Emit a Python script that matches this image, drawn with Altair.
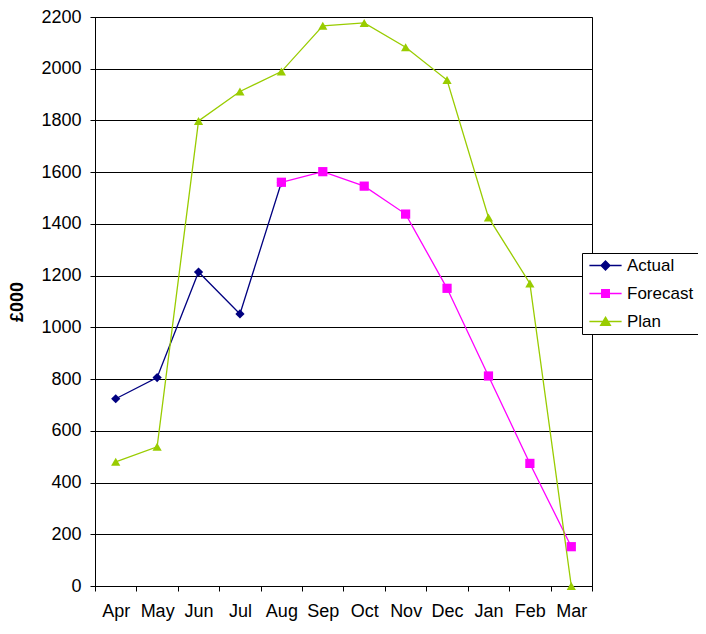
import altair as alt
import pandas as pd

months = ["Apr", "May", "Jun", "Jul", "Aug", "Sep", "Oct", "Nov", "Dec", "Jan", "Feb", "Mar"]
actual_months = ["Apr", "May", "Jun", "Jul", "Aug"]
actual = [724, 806, 1214, 1052, 1560]
forecast_months = ["Aug", "Sep", "Oct", "Nov", "Dec", "Jan", "Feb", "Mar"]
forecast = [1561, 1602, 1546, 1438, 1151, 812, 474, 152]
plan_months = months
plan = [480, 538, 1798, 1912, 1989, 2166, 2177, 2083, 1956, 1425, 1170, 0]

series = ["Actual", "Forecast", "Plan"]
colors = ["#000080", "#FF00FF", "#99CC00"]
point_shapes = ["diamond", "square", "triangle-up"]
# legend glyphs: a short line with the marker on it
legend_shapes = [
    "M-2.3,0L2.3,0M0,-0.64L0.64,0L0,0.64L-0.64,0Z",
    "M-2.3,0L2.3,0M-0.55,-0.55L0.55,-0.55L0.55,0.55L-0.55,0.55Z",
    "M-2.3,0L2.3,0M0,-0.62L0.7,0.55L-0.7,0.55Z",
]

rows = []
for m, v in zip(actual_months, actual):
    rows.append({"Month": m, "Value": v, "Series": "Actual"})
for m, v in zip(forecast_months, forecast):
    rows.append({"Month": m, "Value": v, "Series": "Forecast"})
for m, v in zip(plan_months, plan):
    rows.append({"Month": m, "Value": v, "Series": "Plan"})
df = pd.DataFrame(rows)

FONT = "Liberation Sans"

x_enc = alt.X(
    "Month:N",
    sort=months,
    scale=alt.Scale(type="band", domain=months, paddingInner=0, paddingOuter=0),
    bandPosition=0.5,
    axis=alt.Axis(
        title=None,
        tickBand="extent",
        labelAngle=0,
        tickSize=5,
        tickColor="black",
        domainColor="black",
        labelPadding=11,
        grid=False,
        labelFontSize=18,
        labelColor="black",
    ),
)
y_enc = alt.Y(
    "Value:Q",
    scale=alt.Scale(domain=[0, 2200], nice=False),
    axis=alt.Axis(
        title="£000",
        titleFontSize=18,
        titleFontWeight="bold",
        titleColor="black",
        titlePadding=14,
        values=list(range(0, 2201, 200)),
        format="d",
        tickSize=5,
        tickColor="black",
        domainColor="black",
        gridColor="black",
        gridWidth=1,
        labelPadding=9,
        labelFontSize=18,
        labelColor="black",
    ),
)

lines = alt.Chart(df).mark_line(strokeWidth=1.3).encode(
    x=x_enc,
    y=y_enc,
    stroke=alt.Stroke("Series:N", scale=alt.Scale(domain=series, range=colors), legend=None),
    detail="Series:N",
)

points = alt.Chart(df).mark_point(filled=True, size=85, opacity=1).encode(
    x=x_enc,
    y=y_enc,
    fill=alt.Fill("Series:N", scale=alt.Scale(domain=series, range=colors), legend=None),
    shape=alt.Shape("Series:N", scale=alt.Scale(domain=series, range=point_shapes), legend=None),
)

leg = alt.Legend(
    title=None,
    orient="none",
    legendX=487,
    legendY=236,
    labelFontSize=17,
    labelColor="black",
    labelFont=FONT,
    symbolSize=196,
    symbolStrokeWidth=1.3,
    symbolOffset=11,
    labelOffset=13,
    rowPadding=10,
    padding=4,
    strokeColor="black",
    fillColor="white",
    cornerRadius=0,
)

legend_layer = alt.Chart(df).transform_filter("false").mark_point(
    filled=True, opacity=1, size=196, strokeWidth=1.3
).encode(
    x=x_enc,
    y=y_enc,
    fill=alt.Fill("Series:N", scale=alt.Scale(domain=series, range=colors), legend=leg),
    stroke=alt.Stroke("Series:N", scale=alt.Scale(domain=series, range=colors), legend=leg),
    shape=alt.Shape(
        "Series:N",
        scale=alt.Scale(domain=series, range=legend_shapes),
        legend=leg,
    ),
)

chart = (
    alt.layer(lines, points, legend_layer)
    .resolve_scale(fill="independent", stroke="independent", shape="independent")
    .properties(
        width=497,
        height=569,
        autosize=alt.AutoSizeParams(type="none"),
        padding={"left": 87, "top": 9, "right": 106, "bottom": 36},
    )
    .configure(font=FONT)
    .configure_view(stroke="black", strokeWidth=1)
    .configure_axis(labelFont=FONT, titleFont=FONT)
)

chart.save("out.html", embed_options={"renderer": "svg", "actions": False})
